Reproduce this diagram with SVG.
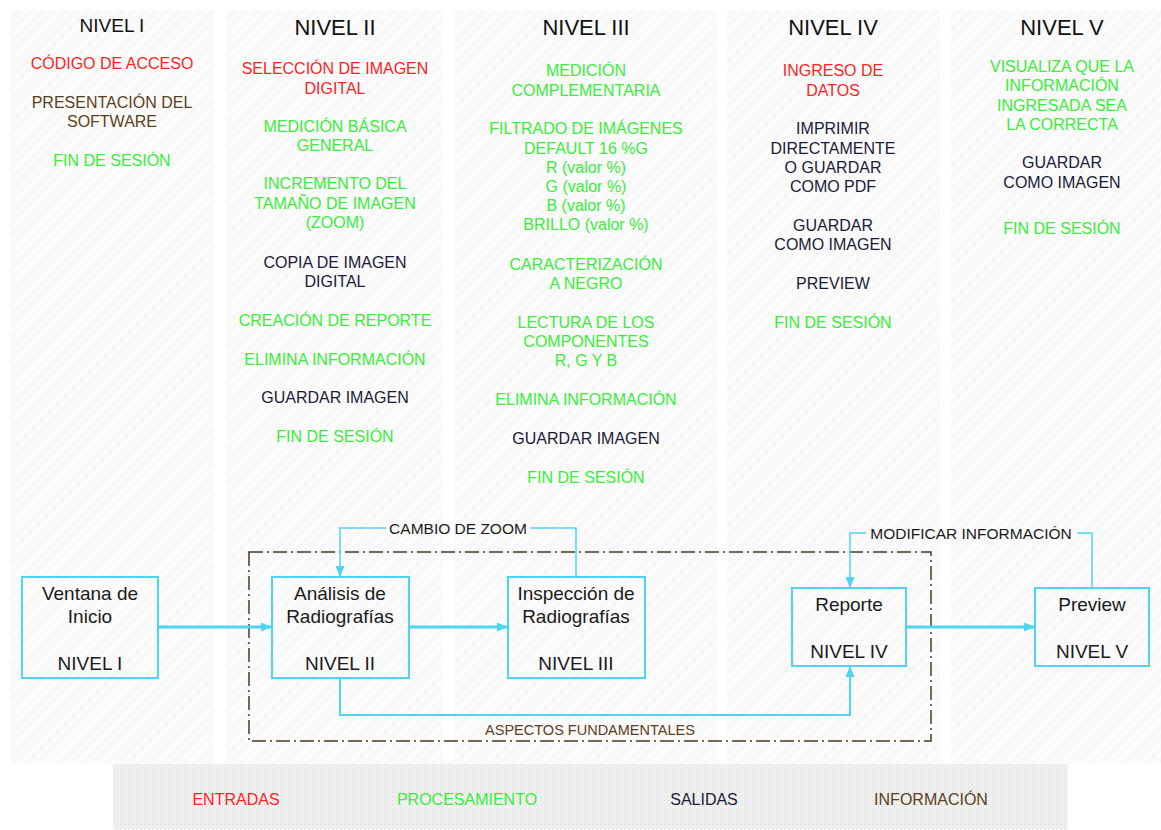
<svg xmlns="http://www.w3.org/2000/svg" width="1161" height="830" viewBox="0 0 1161 830">
<defs>
<pattern id="hatch" width="8" height="8" patternUnits="userSpaceOnUse" patternTransform="rotate(45)">
<rect width="8" height="8" fill="#f8f8f8"/>
<line x1="2" y1="0" x2="2" y2="8" stroke="#fdfdfd" stroke-width="3"/>
</pattern>
<pattern id="dots" width="4" height="4" patternUnits="userSpaceOnUse">
<rect width="4" height="4" fill="#f1f1f1"/>
<rect width="1" height="1" fill="#d3d3d3"/>
<rect x="2" y="2" width="1" height="1" fill="#dcdcdc"/>
</pattern>
<marker id="arr" markerWidth="11" markerHeight="9" refX="10" refY="4.5" orient="auto" markerUnits="userSpaceOnUse">
<path d="M0,0 L11,4.5 L0,9 z" fill="#4fd3f3"/>
</marker>
<style>
text{font-family:"Liberation Sans",Arial,sans-serif;text-anchor:middle}
.t{font-size:16px}
.h{font-size:22px;fill:#111}
.r{fill:#ff1f1f}
.g{fill:#38ee38}
.n{fill:#1b1b38}
.b{fill:#5b3f1c}
.box{fill:none;stroke:#4fd3f3;stroke-width:2}
.bt{font-size:19px;fill:#1a1a1a}
.c{fill:none;stroke:#4fd3f3}
.lbl{font-size:15.5px;fill:#1a1a1a}
</style>
</defs>
<rect width="1161" height="830" fill="#ffffff"/>
<g id="panels">
<rect x="10" y="10" width="204" height="753" fill="url(#hatch)"/>
<rect x="226" y="10" width="217" height="753" fill="url(#hatch)"/>
<rect x="454" y="10" width="263" height="753" fill="url(#hatch)"/>
<rect x="727" y="10" width="213" height="753" fill="url(#hatch)"/>
<rect x="951" y="10" width="210" height="753" fill="url(#hatch)"/>
</g>
<g id="col1">
<text class="h" x="112" y="32" style="font-size:19px">NIVEL I</text>
<text class="t r" x="112" y="69">CÓDIGO DE ACCESO</text>
<text class="t b" x="112" y="108">PRESENTACIÓN DEL</text>
<text class="t b" x="112" y="127">SOFTWARE</text>
<text class="t g" x="112" y="166">FIN DE SESIÓN</text>
</g>
<g id="col2">
<text class="h" x="335" y="35">NIVEL II</text>
<text class="t r" x="335" y="74">SELECCIÓN DE IMAGEN</text>
<text class="t r" x="335" y="94">DIGITAL</text>
<text class="t g" x="335" y="132">MEDICIÓN BÁSICA</text>
<text class="t g" x="335" y="151">GENERAL</text>
<text class="t g" x="335" y="189">INCREMENTO DEL</text>
<text class="t g" x="335" y="209">TAMAÑO DE IMAGEN</text>
<text class="t g" x="335" y="228">(ZOOM)</text>
<text class="t n" x="335" y="268">COPIA DE IMAGEN</text>
<text class="t n" x="335" y="287">DIGITAL</text>
<text class="t g" x="335" y="326">CREACIÓN DE REPORTE</text>
<text class="t g" x="335" y="365">ELIMINA INFORMACIÓN</text>
<text class="t n" x="335" y="403">GUARDAR IMAGEN</text>
<text class="t g" x="335" y="442">FIN DE SESIÓN</text>
</g>
<g id="col3">
<text class="h" x="586" y="35">NIVEL III</text>
<text class="t g" x="586" y="76">MEDICIÓN</text>
<text class="t g" x="586" y="96">COMPLEMENTARIA</text>
<text class="t g" x="586" y="134">FILTRADO DE IMÁGENES</text>
<text class="t g" x="586" y="154">DEFAULT 16 %G</text>
<text class="t g" x="586" y="173">R (valor %)</text>
<text class="t g" x="586" y="192">G (valor %)</text>
<text class="t g" x="586" y="211">B (valor %)</text>
<text class="t g" x="586" y="230">BRILLO (valor %)</text>
<text class="t g" x="586" y="270">CARACTERIZACIÓN</text>
<text class="t g" x="586" y="289">A NEGRO</text>
<text class="t g" x="586" y="328">LECTURA DE LOS</text>
<text class="t g" x="586" y="347">COMPONENTES</text>
<text class="t g" x="586" y="366">R, G Y B</text>
<text class="t g" x="586" y="405">ELIMINA INFORMACIÓN</text>
<text class="t n" x="586" y="444">GUARDAR IMAGEN</text>
<text class="t g" x="586" y="483">FIN DE SESIÓN</text>
</g>
<g id="col4">
<text class="h" x="833" y="35">NIVEL IV</text>
<text class="t r" x="833" y="76">INGRESO DE</text>
<text class="t r" x="833" y="96">DATOS</text>
<text class="t n" x="833" y="134">IMPRIMIR</text>
<text class="t n" x="833" y="154">DIRECTAMENTE</text>
<text class="t n" x="833" y="173">O GUARDAR</text>
<text class="t n" x="833" y="192">COMO PDF</text>
<text class="t n" x="833" y="231">GUARDAR</text>
<text class="t n" x="833" y="250">COMO IMAGEN</text>
<text class="t n" x="833" y="289">PREVIEW</text>
<text class="t g" x="833" y="328">FIN DE SESIÓN</text>
</g>
<g id="col5">
<text class="h" x="1062" y="35">NIVEL V</text>
<text class="t g" x="1062" y="72">VISUALIZA QUE LA</text>
<text class="t g" x="1062" y="91">INFORMACIÓN</text>
<text class="t g" x="1062" y="111">INGRESADA SEA</text>
<text class="t g" x="1062" y="130">LA CORRECTA</text>
<text class="t n" x="1062" y="168">GUARDAR</text>
<text class="t n" x="1062" y="188">COMO IMAGEN</text>
<text class="t g" x="1062" y="234">FIN DE SESIÓN</text>
</g>
<g id="group-aspectos">
<rect x="249" y="552" width="682" height="189" fill="none" stroke="#4a3822" stroke-width="1.5" stroke-dasharray="14 4 2 4"/>
<text x="590" y="735" style="font-size:14.5px;fill:#5b3f1c">ASPECTOS FUNDAMENTALES</text>
</g>
<g id="connectors">
<line class="c" x1="158" y1="627" x2="271" y2="627" stroke-width="3" marker-end="url(#arr)"/>
<line class="c" x1="409" y1="627" x2="507" y2="627" stroke-width="3" marker-end="url(#arr)"/>
<line class="c" x1="906" y1="627" x2="1034" y2="627" stroke-width="3" marker-end="url(#arr)"/>
<path class="c" stroke-width="1.5" d="M576,577 V528 H531"/>
<path class="c" stroke-width="1.5" d="M386,528 H340 V576" marker-end="url(#arr)"/>
<text class="lbl" x="458" y="534">CAMBIO DE ZOOM</text>
<path class="c" stroke-width="1.5" d="M1092,588 V533 H1077"/>
<path class="c" stroke-width="1.5" d="M866,533 H850 V587" marker-end="url(#arr)"/>
<text class="lbl" x="971" y="539">MODIFICAR INFORMACIÓN</text>
<path class="c" stroke-width="2" d="M340,678 V715 H850 V667" marker-end="url(#arr)"/>
</g>
<g id="node-ventana">
<rect class="box" x="22" y="577" width="136" height="101"/>
<text class="bt" x="90" y="600">Ventana de</text>
<text class="bt" x="90" y="623">Inicio</text>
<text class="bt" x="90" y="670">NIVEL I</text>
</g>
<g id="node-analisis">
<rect class="box" x="272" y="577" width="137" height="101"/>
<text class="bt" x="340" y="600">Análisis de</text>
<text class="bt" x="340" y="623">Radiografías</text>
<text class="bt" x="340" y="670">NIVEL II</text>
</g>
<g id="node-inspeccion">
<rect class="box" x="508" y="577" width="137" height="101"/>
<text class="bt" x="576" y="600">Inspección de</text>
<text class="bt" x="576" y="623">Radiografías</text>
<text class="bt" x="576" y="670">NIVEL III</text>
</g>
<g id="node-reporte">
<rect class="box" x="792" y="588" width="114" height="78"/>
<text class="bt" x="849" y="611">Reporte</text>
<text class="bt" x="849" y="658">NIVEL IV</text>
</g>
<g id="node-preview">
<rect class="box" x="1035" y="588" width="114" height="78"/>
<text class="bt" x="1092" y="611">Preview</text>
<text class="bt" x="1092" y="658">NIVEL V</text>
</g>
<g id="legend">
<rect x="113" y="764" width="955" height="66" fill="url(#dots)"/>
<text class="t r" x="236" y="805">ENTRADAS</text>
<text class="t g" x="467" y="805">PROCESAMIENTO</text>
<text class="t n" x="704" y="805">SALIDAS</text>
<text class="t b" x="931" y="805">INFORMACIÓN</text>
</g>
</svg>
